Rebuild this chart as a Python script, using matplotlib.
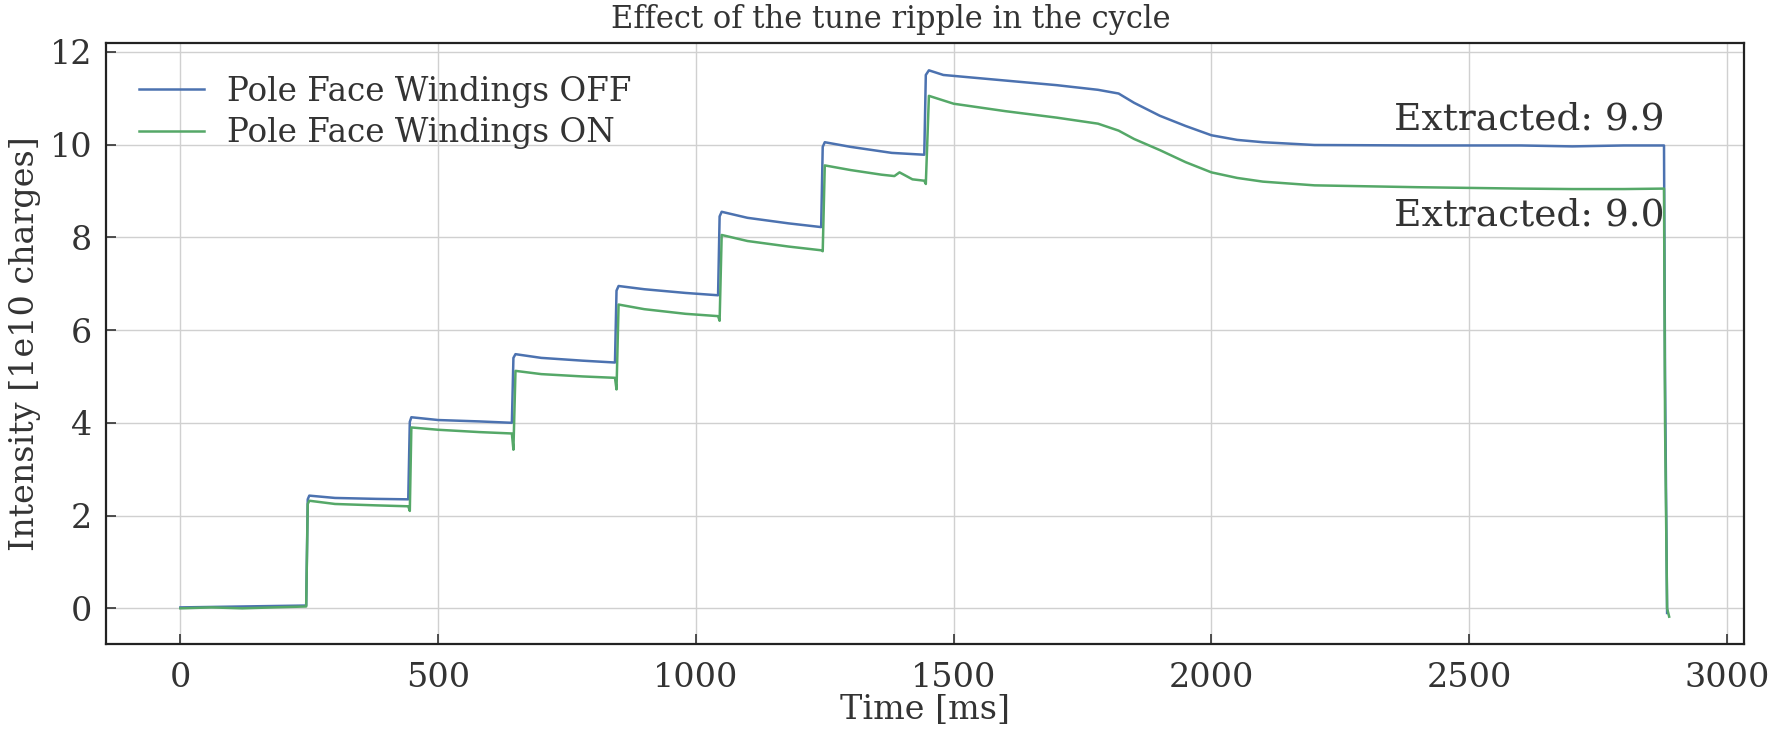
import matplotlib as mpl

mpl.use("Agg")

import matplotlib.pyplot as plt
import numpy as np

# knot points (time in ms, intensity in 1e10 charges)
time_off = [0, 60, 120, 180, 244, 247, 250, 300, 380, 442, 445, 448, 500, 580, 643,
            646, 650, 700, 780, 843, 846, 850, 900, 980, 1043, 1046, 1050, 1100, 1180,
            1243, 1246, 1250, 1300, 1380, 1443, 1446, 1452, 1480, 1600, 1700, 1780, 1820,
            1850, 1900, 1950, 2000, 2050, 2100, 2200, 2400, 2600, 2700, 2800, 2878, 2880,
            2884]
intensity_off = [0.02, 0.03, 0.04, 0.05, 0.06, 2.35, 2.43, 2.38, 2.36, 2.35, 4.02, 4.12,
                 4.06, 4.03, 4.00, 5.40, 5.48, 5.40, 5.34, 5.30, 6.85, 6.95, 6.88, 6.80,
                 6.75, 8.45, 8.55, 8.42, 8.30, 8.22, 9.95, 10.05, 9.95, 9.82, 9.78, 11.50,
                 11.60, 11.50, 11.38, 11.28, 11.18, 11.10, 10.90, 10.62, 10.40, 10.20,
                 10.10, 10.05, 9.99, 9.98, 9.98, 9.96, 9.98, 9.98, 5.0, -0.10]

time_on = [0, 60, 120, 180, 244, 247, 250, 300, 380, 442, 445, 448, 500, 580, 643, 646,
           650, 700, 780, 843, 846, 850, 900, 980, 1043, 1046, 1050, 1100, 1180, 1243,
           1246, 1250, 1300, 1360, 1385, 1395, 1420, 1443, 1446, 1452, 1500, 1600, 1700,
           1780, 1820, 1850, 1900, 1950, 2000, 2050, 2100, 2200, 2400, 2600, 2700, 2800,
           2878, 2880, 2884, 2888]
intensity_on = [0.0, 0.02, 0.0, 0.02, 0.04, 2.25, 2.32, 2.25, 2.22, 2.20, 2.10, 3.90,
                3.85, 3.80, 3.77, 3.42, 5.12, 5.05, 5.00, 4.97, 4.72, 6.55, 6.45, 6.35,
                6.30, 6.20, 8.05, 7.92, 7.80, 7.72, 7.70, 9.55, 9.45, 9.35, 9.32, 9.40,
                9.25, 9.22, 9.15, 11.05, 10.88, 10.72, 10.58, 10.45, 10.30, 10.12, 9.88,
                9.62, 9.40, 9.28, 9.20, 9.12, 9.08, 9.05, 9.04, 9.04, 9.05, 4.0, 0.0,
                -0.18]

label_off = "Pole Face Windings OFF"
label_on = "Pole Face Windings ON"
extracted_off = 9.9
extracted_on = 9.0

plt.rcParams["font.family"] = "serif"
plt.rcParams["font.serif"] = ["DejaVu Serif"]

text_color = "#333333"

figure, axis = plt.subplots(figsize=(17.81, 7.29), dpi=100)
axis.plot(time_off, intensity_off, color="#4C72B0", linewidth=1.8, label=label_off)
axis.plot(time_on, intensity_on, color="#55A868", linewidth=1.8, label=label_on)

axis.text(2878, 10.15, f"Extracted: {extracted_off}", ha="right", va="bottom",
          fontsize=27, color=text_color)
axis.text(2878, 8.85, f"Extracted: {extracted_on}", ha="right", va="top",
          fontsize=27, color=text_color)

# title sits centred on the whole figure, not on the axes
figure.text(0.5, 0.995, "Effect of the tune ripple in the cycle", ha="center", va="top",
            fontsize=22, color=text_color)
axis.set_xlabel("Time [ms]", fontsize=24, color=text_color, labelpad=0)
axis.set_ylabel("Intensity [1e10 charges]", fontsize=24, color=text_color, labelpad=6)
axis.set_yticks(np.arange(0, 13, 2))
axis.tick_params(direction="in", length=7, width=1.2, labelsize=24, colors=text_color)
axis.tick_params(axis="x", pad=13)
axis.tick_params(axis="y", pad=10)
axis.grid(True, color="#d0d0d0", linewidth=1.0)
axis.set_axisbelow(True)
for spine in axis.spines.values():
    spine.set_color("#222222")
    spine.set_linewidth(1.6)
axis.legend(loc="upper left", fontsize=23.5, frameon=False, handlelength=2.0,
            handletextpad=0.7, labelspacing=0.3, borderaxespad=0.6,
            labelcolor=text_color)

figure.subplots_adjust(left=0.0595, right=0.979, top=0.941, bottom=0.1166)
figure.savefig("out.png", dpi=100)
plt.close(figure)
